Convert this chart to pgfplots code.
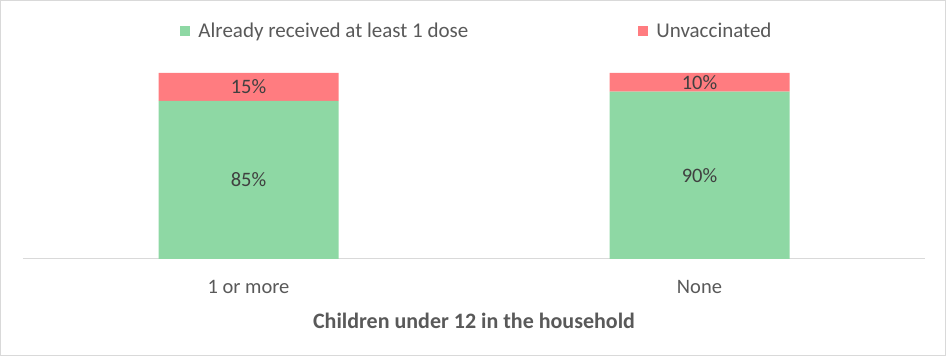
\documentclass[border=0pt]{standalone}
\usepackage{pgfplots}
\pgfplotsset{compat=1.18}
\usepackage{fontspec}
\setmainfont{Carlito}
\definecolor{vgreen}{HTML}{8ED8A4}
\definecolor{vred}{HTML}{FF7C80}
\definecolor{txt}{HTML}{595959}
\definecolor{lbl}{HTML}{404040}
\definecolor{axl}{HTML}{D9D9D9}
\begin{document}
\begin{tikzpicture}[x=1pt,y=1pt]
\useasboundingbox (0,0) rectangle (946,356);
\draw[color=axl, line width=1pt] (0.5,0.5) rectangle (945.5,355.5);
\begin{axis}[at={(23pt,97pt)}, anchor=south west, scale only axis,
  width=902pt, height=186pt,
  ybar stacked, bar width=180pt,
  xmin=-0.5, xmax=1.5, ymin=0, ymax=100,
  xtick={0,1}, xticklabels={1 or more, None},
  ytick=\empty, axis y line=none, axis x line*=bottom,
  x axis line style={color=axl, line width=1pt, -},
  major tick length=0pt, xtick style={draw=none},
  xticklabel style={font=\fontsize{20.5}{24}\selectfont, text=txt, anchor=base, yshift=-35pt},
  xlabel={Children under 12 in the household},
  xlabel style={font=\bfseries\fontsize{22}{26}\selectfont, text=txt, at={(axis description cs:0.5,0)}, anchor=base, yshift=-70pt},
  legend style={at={(axis description cs:0.5,1)}, anchor=center, yshift=42pt, xshift=3pt, draw=none,
    font=\fontsize{21}{24}\selectfont, text=txt,
    /tikz/every even column/.append style={column sep=168pt}},
  legend columns=2,
  legend image code/.code={\fill[#1] (0pt,-5pt) rectangle (10pt,5pt); \path (16pt,0pt);},
]
\addplot[fill=vgreen, draw=none] coordinates {(0,85) (1,90)};
\addlegendentry{Already received at least 1 dose}
\addplot[fill=vred, draw=none] coordinates {(0,15) (1,10)};
\addlegendentry{Unvaccinated}
\end{axis}
\begin{axis}[at={(23pt,97pt)}, anchor=south west, scale only axis,
  width=902pt, height=186pt,
  xmin=-0.5, xmax=1.5, ymin=0, ymax=100, hide axis]
\addplot[only marks, mark=none, nodes near coords, point meta=explicit symbolic,
  every node near coord/.append style={anchor=center, font=\fontsize{20.5}{24}\selectfont, text=lbl}]
  coordinates {(0,42.5)[85\%] (0,92.5)[15\%] (1,45)[90\%] (1,95)[10\%]};
\end{axis}
\end{tikzpicture}
\end{document}
